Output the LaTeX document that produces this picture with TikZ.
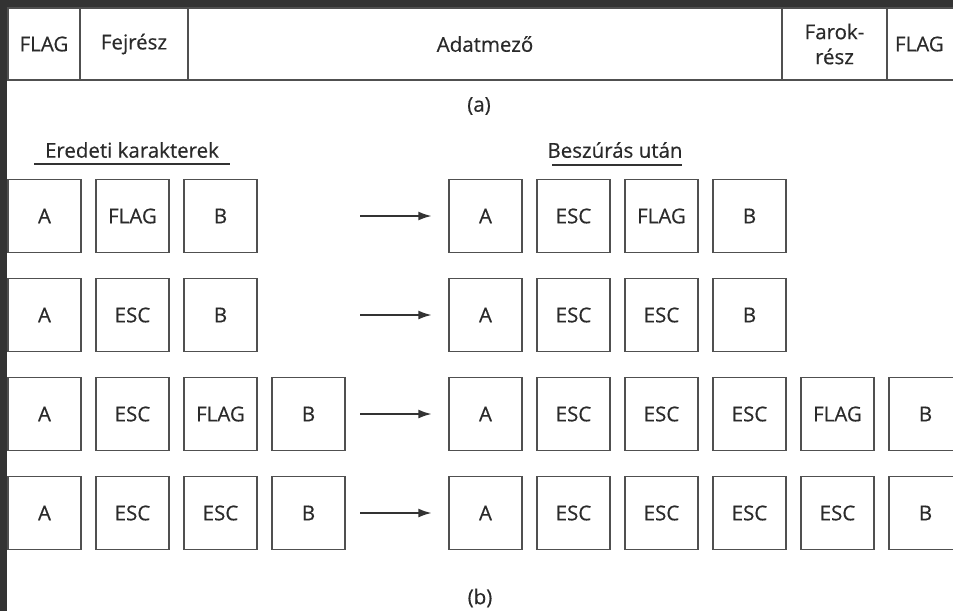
\documentclass[tikz,border=0pt]{standalone}
\usepackage{fontspec}
\setmainfont{Open Sans}[FakeBold=0.4]
\usetikzlibrary{arrows.meta}
\definecolor{frame}{HTML}{333333}
\definecolor{ink}{HTML}{2A2A2A}
\definecolor{edge}{HTML}{505050}
\tikzset{
  cell/.style={draw=edge, line width=1.4pt, minimum width=73pt, minimum height=73pt, inner sep=0pt, text=ink, font=\fontsize{20.5}{25}\selectfont},
  hcell/.style={draw=edge, line width=1.4pt, minimum height=72pt, inner sep=0pt, text=ink, font=\fontsize{20.5}{25}\selectfont, align=center},
  arr/.style={draw=frame, line width=2.6pt, -{Latex[length=14pt,width=9pt]}, shorten >=16pt},
  lbl/.style={text=ink, font=\fontsize{20.5}{25}\selectfont, inner sep=0pt},
  uline/.style={draw=frame, line width=1.7pt}
}
\begin{document}
\begin{tikzpicture}[x=1pt,y=-1pt]
\useasboundingbox (0,0) rectangle (953,611);
\clip (0,0) rectangle (953,611);
\fill[white] (0,0) rectangle (953,611);
% header strip (a)
\node[hcell, minimum width=72pt]  (h1) at (44,44) {FLAG};
\node[hcell, minimum width=108pt] (h2) at (134,44) {Fejrész};
\node[hcell, minimum width=594pt] (h3) at (485,44) {Adatmező};
\node[hcell, minimum width=105pt] (h4) at (834.5,44) {Farok-\\rész};
\node[hcell, minimum width=72pt, text width=72pt, align=left] (h5) at (923,44) {\hspace{8pt}FLAG};
\node[lbl] (la) at (479,106) {(a)};
% column headings
\node[lbl] (t1) at (132,150) {Eredeti karakterek};
\draw[uline] (34,164) -- (230,164);
\node[lbl] (t2) at (615,150) {Beszúrás után};
\draw[uline] (552,165) -- (682,165);
% row 1
\node[cell] (l1a) at (44.5,216) {A};
\node[cell] (l1b) at (132.5,216) {FLAG};
\node[cell] (l1c) at (220.5,216) {B};
\node[cell] (r1a) at (485.5,216) {A};
\node[cell] (r1b) at (573.5,216) {ESC};
\node[cell] (r1c) at (661.5,216) {FLAG};
\node[cell] (r1d) at (749.5,216) {B};
% row 2
\node[cell] (l2a) at (44.5,315) {A};
\node[cell] (l2b) at (132.5,315) {ESC};
\node[cell] (l2c) at (220.5,315) {B};
\node[cell] (r2a) at (485.5,315) {A};
\node[cell] (r2b) at (573.5,315) {ESC};
\node[cell] (r2c) at (661.5,315) {ESC};
\node[cell] (r2d) at (749.5,315) {B};
% row 3
\node[cell] (l3a) at (44.5,414) {A};
\node[cell] (l3b) at (132.5,414) {ESC};
\node[cell] (l3c) at (220.5,414) {FLAG};
\node[cell] (l3d) at (308.5,414) {B};
\node[cell] (r3a) at (485.5,414) {A};
\node[cell] (r3b) at (573.5,414) {ESC};
\node[cell] (r3c) at (661.5,414) {ESC};
\node[cell] (r3d) at (749.5,414) {ESC};
\node[cell] (r3e) at (837.5,414) {FLAG};
\node[cell] (r3f) at (925.5,414) {B};
% row 4
\node[cell] (l4a) at (44.5,513) {A};
\node[cell] (l4b) at (132.5,513) {ESC};
\node[cell] (l4c) at (220.5,513) {ESC};
\node[cell] (l4d) at (308.5,513) {B};
\node[cell] (r4a) at (485.5,513) {A};
\node[cell] (r4b) at (573.5,513) {ESC};
\node[cell] (r4c) at (661.5,513) {ESC};
\node[cell] (r4d) at (749.5,513) {ESC};
\node[cell] (r4e) at (837.5,513) {ESC};
\node[cell] (r4f) at (925.5,513) {B};
% arrows
\coordinate (s1) at (360,216);
\coordinate (s2) at (360,315);
\coordinate (s3) at (360,414);
\coordinate (s4) at (360,513);
\draw[arr] (s1) -- (r1a);
\draw[arr] (s2) -- (r2a);
\draw[arr] (s3) -- (r3a);
\draw[arr] (s4) -- (r4a);
\node[lbl] (lb) at (480,598) {(b)};
% dark frame
\fill[frame] (0,0) rectangle (953,7);
\fill[frame] (0,0) rectangle (7,611);
\end{tikzpicture}
\end{document}
